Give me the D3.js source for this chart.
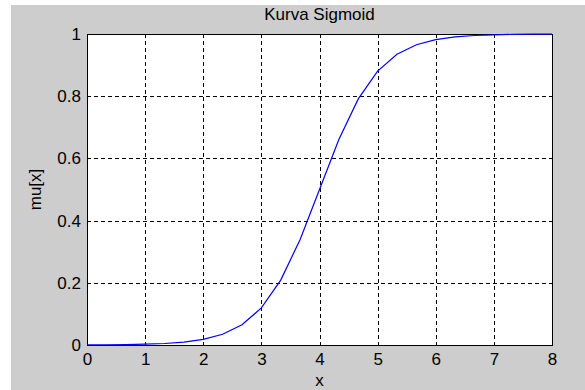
<!DOCTYPE html>
<html>
<head>
<meta charset="utf-8">
<script src="https://cdn.jsdelivr.net/npm/d3@7/dist/d3.min.js"></script>
<style>
  html, body { margin: 0; padding: 0; background: #ffffff; }
  svg { display: block; }
  text { font-family: "Liberation Sans", Arial, sans-serif; fill: #000; }
</style>
</head>
<body>
<svg id="chart" width="585" height="390"></svg>
<script>
// Sampled points of the sigmoid membership curve
const xValues = [0, 0.333, 0.667, 1, 1.333, 1.667, 2, 2.333, 2.667, 3, 3.333, 3.667, 4,
                 4.333, 4.667, 5, 5.333, 5.667, 6, 6.333, 6.667, 7, 7.333, 7.667, 8];
const muValues = [0.0003, 0.0007, 0.0013, 0.0025, 0.0048, 0.0093, 0.0180, 0.0344, 0.0650,
                  0.1192, 0.2086, 0.3392, 0.5000, 0.6608, 0.7914, 0.8808, 0.9350, 0.9656,
                  0.9820, 0.9907, 0.9952, 0.9975, 0.9987, 0.9994, 0.9997];
const xTicks = [0, 1, 2, 3, 4, 5, 6, 7, 8];
const yTicks = [0, 0.2, 0.4, 0.6, 0.8, 1];
const titleText = "Kurva Sigmoid";
const xLabel = "x";
const yLabel = "mu[x]";

const W = 585, H = 390;
const plot = { left: 87, right: 552, top: 34, bottom: 345 };

const svg = d3.select("#chart");

// figure background
svg.append("rect")
  .attr("x", 11).attr("y", 5)
  .attr("width", W - 11).attr("height", H - 5)
  .attr("fill", "#cdcdcd");

const x = d3.scaleLinear().domain([0, 8]).range([plot.left, plot.right]);
const y = d3.scaleLinear().domain([0, 1]).range([plot.bottom, plot.top]);

// axes area
svg.append("rect")
  .attr("x", plot.left).attr("y", plot.top)
  .attr("width", plot.right - plot.left).attr("height", plot.bottom - plot.top)
  .attr("fill", "#ffffff");

// dashed grid
const grid = svg.append("g")
  .attr("stroke", "#000")
  .attr("stroke-width", 1)
  .attr("stroke-dasharray", "4,3")
  .attr("shape-rendering", "crispEdges");

grid.selectAll("line.v")
  .data(xTicks.filter(d => d > 0 && d < 8))
  .join("line")
  .attr("class", "v")
  .attr("x1", d => Math.round(x(d)) + 0.5).attr("x2", d => Math.round(x(d)) + 0.5)
  .attr("y1", plot.top).attr("y2", plot.bottom);

grid.selectAll("line.h")
  .data(yTicks.filter(d => d > 0 && d < 1))
  .join("line")
  .attr("class", "h")
  .attr("y1", d => Math.round(y(d)) + 0.5).attr("y2", d => Math.round(y(d)) + 0.5)
  .attr("x1", plot.left).attr("x2", plot.right);

// frame
svg.append("rect")
  .attr("x", plot.left + 0.5).attr("y", plot.top + 0.5)
  .attr("width", plot.right - plot.left).attr("height", plot.bottom - plot.top)
  .attr("fill", "none")
  .attr("stroke", "#000")
  .attr("stroke-width", 1)
  .attr("shape-rendering", "crispEdges");

// tick labels
const fmt = d => d3.format("~g")(d);

const xAxis = svg.append("g")
  .attr("transform", `translate(0,${plot.bottom})`)
  .call(d3.axisBottom(x).tickValues(xTicks).tickFormat(fmt).tickSize(0).tickPadding(8));
xAxis.select(".domain").remove();
xAxis.selectAll("text")
  .attr("font-size", 17)
  .attr("font-family", "'Liberation Sans', Arial, sans-serif");

const yAxis = svg.append("g")
  .attr("transform", `translate(${plot.left},0)`)
  .call(d3.axisLeft(y).tickValues(yTicks).tickFormat(fmt).tickSize(0).tickPadding(6));
yAxis.select(".domain").remove();
yAxis.selectAll("text")
  .attr("font-size", 17)
  .attr("font-family", "'Liberation Sans', Arial, sans-serif");

// sigmoid curve
const line = d3.line()
  .x((d, i) => x(xValues[i]))
  .y(d => y(d));

svg.append("path")
  .datum(muValues)
  .attr("d", line)
  .attr("fill", "none")
  .attr("stroke", "#0000ff")
  .attr("stroke-width", 1.2);

// title and labels
svg.append("text")
  .attr("x", (plot.left + plot.right) / 2)
  .attr("y", 19.5)
  .attr("text-anchor", "middle")
  .attr("font-size", 17)
  .text(titleText);

svg.append("text")
  .attr("x", (plot.left + plot.right) / 2)
  .attr("y", 386)
  .attr("text-anchor", "middle")
  .attr("font-size", 17)
  .text(xLabel);

svg.append("text")
  .attr("transform", `translate(41,${(plot.top + plot.bottom) / 2}) rotate(-90)`)
  .attr("text-anchor", "middle")
  .attr("font-size", 17)
  .text(yLabel);
</script>
</body>
</html>
